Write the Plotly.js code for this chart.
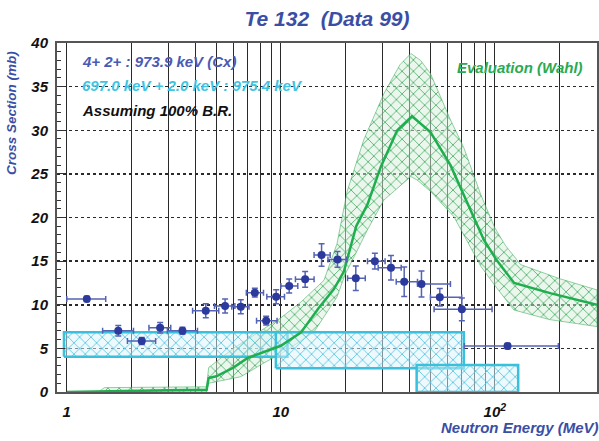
<!DOCTYPE html>
<html>
<head>
<meta charset="utf-8">
<script src="https://cdn.plot.ly/plotly-3.0.1.min.js"></script>
<style>html,body{margin:0;padding:0;background:#fff;}#chart{width:599px;height:441px;}</style>
</head>
<body>
<div id="chart"></div>
<script>
// ---- data ----
const dataE    = [1.24, 1.74, 2.24, 2.73, 3.47, 4.46, 5.49, 6.5, 7.56, 8.54, 9.51, 10.94, 12.99, 15.5, 18.4, 22.4, 27.5, 32.7, 37.7, 45.4, 55.3, 70.1, 114.6];
const dataXS   = [10.66, 7.03, 5.85, 7.37, 7.03, 9.32, 9.86, 9.78, 11.38, 8.17, 10.92, 12.15, 12.91, 15.7, 15.2, 13.03, 15.0, 14.25, 12.64, 12.38, 10.85, 9.48, 5.27];
const dataErr  = [0.3, 0.6, 0.4, 0.6, 0.4, 0.8, 0.8, 0.8, 0.5, 0.5, 0.8, 0.8, 0.9, 1.3, 0.9, 1.4, 0.9, 1.4, 1.7, 1.5, 1.0, 1.3, 0.3];
const dataElo  = [1.0, 1.47, 1.92, 2.42, 2.95, 3.87, 4.9, 5.9, 6.9, 7.7, 8.6, 10.0, 11.7, 14.3, 16.6, 20.5, 25.4, 28.5, 34.6, 43.5, 50, 52, 72];
const dataEhi  = [1.52, 2.05, 2.6, 3.06, 4.08, 5.13, 6.1, 7.1, 8.3, 9.6, 10.4, 12.0, 14.3, 17.0, 20.3, 24.8, 30.7, 36.5, 43.5, 62, 70, 97, 198];

const evalE    = [1, 1.5, 2, 3, 4.5, 4.6, 5.0, 6.0, 7.0, 8.0, 10, 12.4, 15, 17.7, 19.7, 22.5, 25.4, 29.3, 35, 41, 50, 62, 75, 89, 102, 123, 183, 300];
const evalXS   = [0, 0.1, 0.15, 0.2, 0.25, 1.6, 1.8, 2.8, 3.9, 4.4, 5.3, 6.8, 9.6, 11.8, 13.8, 19.0, 21.5, 25.8, 30.0, 31.6, 29.8, 26.0, 21.5, 17.4, 15.1, 12.5, 11.3, 10.0];

const upE      = [1.4, 1.5, 4.5, 4.6, 6.0, 7.5, 10, 12.4, 15.9, 18.3, 20.4, 24.4, 30.3, 36, 40.5, 45, 50, 55.6, 62, 71.6, 86, 100, 112, 132, 200, 300];
const upXS     = [0, 0.5, 0.6, 2.8, 5.0, 6.5, 8.5, 10.3, 12.8, 17.0, 23.0, 28.9, 34.2, 37.5, 38.8, 38.0, 36.5, 33.9, 31.2, 28.0, 22.6, 18.8, 16.8, 14.6, 13.0, 11.7];
const loE      = [1.4, 4.5, 4.6, 6.5, 8.3, 10.7, 14.3, 18.3, 20, 22, 25.4, 30.3, 40.5, 43.3, 50, 64.3, 86, 100, 122.7, 180, 300];
const loXS     = [0, 0, 1.0, 1.75, 3.3, 4.8, 6.9, 10.9, 13.5, 15.5, 18.6, 22.0, 24.7, 24.3, 23.0, 20.1, 14.4, 12.2, 9.4, 8.3, 7.5];

// cyan level boxes: [Elow, Ehigh, XSlow, XShigh]
const boxElo   = [0.97, 9.48, 43.1];
const boxEhi   = [10.74, 71.6, 128.5];
const boxXSlo  = [4.05, 2.72, 0.0];
const boxXShi  = [6.84, 6.84, 3.09];

const xTickVals  = [1, 10, 100];
const xTickText  = ['1', '10', '10<sup>2</sup>'];
const xMinorVals = [2,3,4,5,6,7,8,9,20,30,40,50,60,70,80,90,200];

// ---- traces ----
const traces = [];
const bandX = upE.concat(loE.slice().reverse());
const bandY = upXS.concat(loXS.slice().reverse());
traces.push({
  x: bandX, y: bandY, type: 'scatter', mode: 'lines', fill: 'toself',
  line: {color: 'rgba(60,170,90,0.55)', width: 1},
  fillcolor: 'rgba(205,238,212,0.6)',
  fillpattern: {shape: 'x', fgcolor: '#3aa85a', bgcolor: 'rgba(215,240,220,0.5)', size: 8, solidity: 0.18},
  hoverinfo: 'skip', showlegend: false
});
for (let i = 0; i < boxElo.length; i++) {
  traces.push({
    x: [boxElo[i], boxEhi[i], boxEhi[i], boxElo[i], boxElo[i]],
    y: [boxXSlo[i], boxXSlo[i], boxXShi[i], boxXShi[i], boxXSlo[i]],
    type: 'scatter', mode: 'lines', fill: 'toself',
    line: {color: '#38c0dc', width: 2.5},
    fillcolor: 'rgba(215,242,250,0.55)',
    fillpattern: {shape: 'x', fgcolor: '#58c6e2', bgcolor: 'rgba(220,244,250,0.5)', size: 8, solidity: 0.2},
    hoverinfo: 'skip', showlegend: false
  });
}
traces.push({
  x: evalE, y: evalXS, type: 'scatter', mode: 'lines',
  line: {color: '#1fae4e', width: 2.5}, showlegend: false
});
traces.push({
  x: dataE, y: dataXS, type: 'scatter', mode: 'markers',
  marker: {color: '#2b3a9c', size: 8},
  error_y: {type: 'data', array: dataErr, visible: true, color: '#5563b4', thickness: 1.5, width: 3},
  error_x: {type: 'data', symmetric: false,
            array: dataEhi.map((v, i) => v - dataE[i]),
            arrayminus: dataE.map((v, i) => v - dataElo[i]),
            visible: true, color: '#5563b4', thickness: 1.5, width: 3},
  showlegend: false
});

const FAM = 'Liberation Sans, Arial, sans-serif';
const tfont = {family: FAM, size: 15, color: '#111', weight: 'bold', style: 'italic'};
const bi = s => '<b><i>' + s + '</i></b>';
const layout = {
  width: 599, height: 441,
  margin: {l: 57, r: 2, t: 43, b: 49},
  paper_bgcolor: '#fff', plot_bgcolor: '#fff',
  showlegend: false,
  title: {text: bi('Te 132  (Data 99)'), xref: 'paper', x: 0.5, xanchor: 'center', yref: 'container', y: 0.958, yanchor: 'middle',
          font: {family: FAM, size: 21, color: '#3a4ea4'}},
  xaxis: {
    type: 'log', range: [Math.log10(0.9), Math.log10(300)],
    tickmode: 'array', tickvals: xTickVals, ticktext: xTickText,
    showgrid: true, gridcolor: '#2a2a2a', gridwidth: 1,
    minor: {tickmode: 'array', tickvals: xMinorVals, showgrid: true, gridcolor: '#2a2a2a', gridwidth: 1, ticks: ''},
    showline: true, mirror: true, linecolor: '#555', linewidth: 2,
    ticks: '', tickfont: tfont, ticklabelstandoff: 5, zeroline: false
  },
  yaxis: {
    range: [0, 40], dtick: 5, tick0: 0,
    showgrid: true, gridcolor: '#2a2a2a', gridwidth: 1.5, griddash: 'dot',
    showline: true, mirror: true, linecolor: '#555', linewidth: 2,
    ticks: 'inside', ticklen: 8, tickcolor: '#333', tickwidth: 1,
    minor: {ticks: 'inside', dtick: 1, ticklen: 4, tickcolor: '#333', showgrid: false},
    tickfont: tfont, ticklabelstandoff: 4, zeroline: false
  },
  annotations: [
    {xref: 'paper', yref: 'paper', x: -0.083, y: 0.80, xanchor: 'center', yanchor: 'middle', textangle: -90, showarrow: false,
     text: bi('Cross Section (mb)'), font: {family: FAM, size: 13.5, color: '#3a4ea4'}},
    {xref: 'paper', yref: 'paper', x: 1.008, y: -0.103, xanchor: 'right', yanchor: 'middle', showarrow: false,
     text: bi('Neutron Energy (MeV)'), font: {family: FAM, size: 15, color: '#3a4ea4'}},
    {xref: 'paper', yref: 'paper', x: 0.043, y: 0.946, xanchor: 'left', yanchor: 'middle', showarrow: false,
     text: bi('4+ 2+ : 973.9 keV (Cx)'), font: {family: FAM, size: 15, color: '#4a5ab4'}},
    {xref: 'paper', yref: 'paper', x: 0.043, y: 0.877, xanchor: 'left', yanchor: 'middle', showarrow: false,
     text: bi('697.0 keV + 2.0 keV : 975.4 keV'), font: {family: FAM, size: 15, color: '#3ec4e2'}},
    {xref: 'paper', yref: 'paper', x: 0.043, y: 0.806, xanchor: 'left', yanchor: 'middle', showarrow: false,
     text: bi('Assuming 100% B.R.'), font: {family: FAM, size: 15, color: '#111'}},
    {xref: 'paper', yref: 'paper', x: 0.978, y: 0.931, xanchor: 'right', yanchor: 'middle', showarrow: false,
     text: bi('Evaluation (Wahl)'), font: {family: FAM, size: 15, color: '#2aaa52'}}
  ]
};
Plotly.newPlot('chart', traces, layout, {displayModeBar: false, staticPlot: true});
</script>
</body>
</html>
